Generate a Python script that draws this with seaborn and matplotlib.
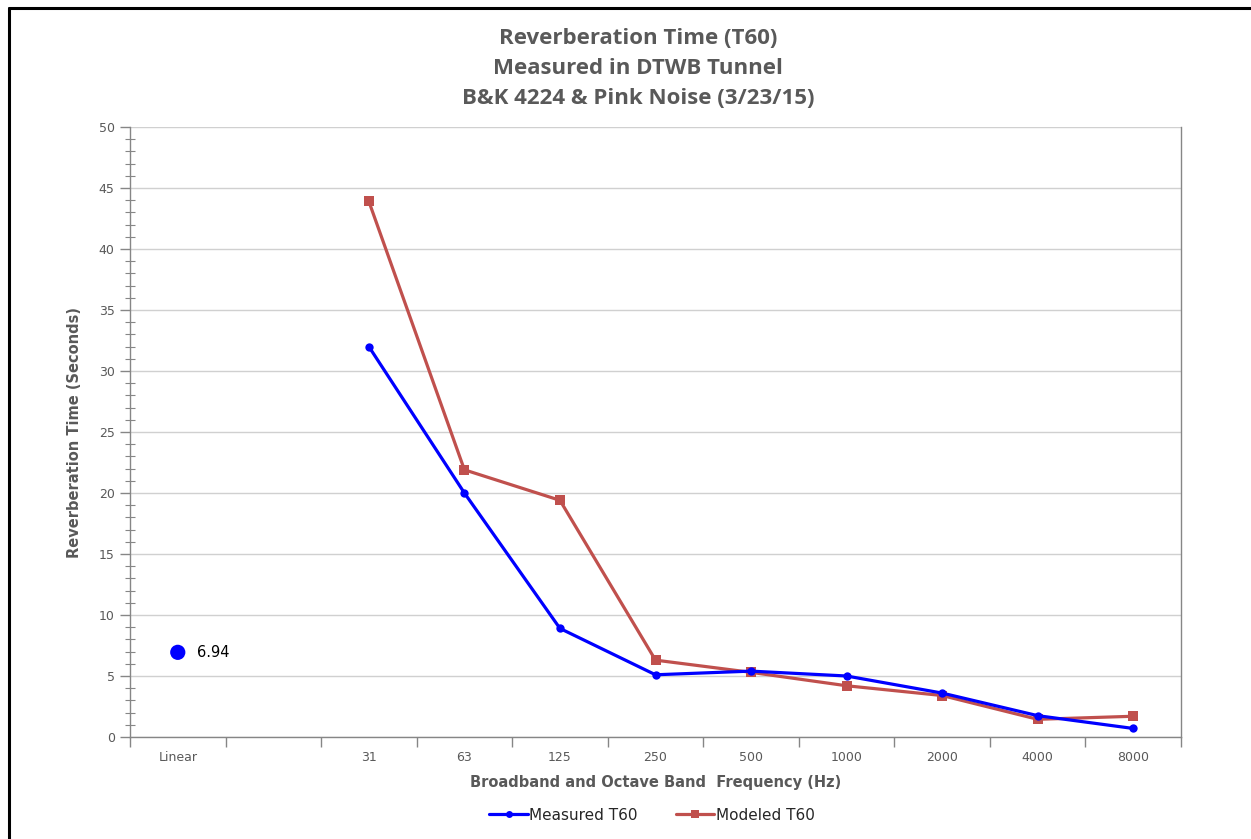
import matplotlib
matplotlib.use("Agg")
import matplotlib.pyplot as plt
from matplotlib.lines import Line2D
from matplotlib.ticker import MultipleLocator, FixedLocator
import seaborn as sns
import pandas as pd
import numpy as np

categories = ["Linear", "", "31", "63", "125", "250", "500", "1000", "2000", "4000", "8000"]
bands = ["31", "63", "125", "250", "500", "1000", "2000", "4000", "8000"]
measured = [32.0, 20.0, 8.9, 5.1, 5.4, 5.0, 3.6, 1.75, 0.7]
modeled = [43.9, 21.9, 19.4, 6.3, 5.3, 4.2, 3.4, 1.45, 1.7]
linear_value = 6.94

title_lines = ["Reverberation Time (T60)", "Measured in DTWB Tunnel", "B&K 4224 & Pink Noise (3/23/15)"]

sns.set_style("white")
plt.rcParams["font.family"] = ["DejaVu Sans"]

pos = {c: i for i, c in enumerate(categories)}
df = pd.DataFrame({
    "x": [pos[b] for b in bands] * 2,
    "T60": measured + modeled,
    "series": ["Measured T60"] * len(bands) + ["Modeled T60"] * len(bands),
})

fig = plt.figure(figsize=(12.51, 8.39), dpi=100)
ax = fig.add_axes([130 / 1251, 1 - 737 / 839, (1181 - 130) / 1251, (737 - 127) / 839])

blue = "#0000FF"
red = "#C0504D"
sns.lineplot(data=df[df.series == "Measured T60"], x="x", y="T60", color=blue, lw=2.3,
             marker="o", markersize=6, markeredgewidth=0, ax=ax, legend=False, zorder=4)
sns.lineplot(data=df[df.series == "Modeled T60"], x="x", y="T60", color=red, lw=2.3,
             marker="s", markersize=6.5, markeredgewidth=0, ax=ax, legend=False, zorder=3)
sns.scatterplot(x=[pos["Linear"]], y=[linear_value], color=blue, s=120, edgecolor="none", ax=ax, zorder=5)
ax.annotate(f"{linear_value:.2f}", (pos["Linear"], linear_value), xytext=(14, 0),
            textcoords="offset points", va="center", ha="left", fontsize=10.5, color="black")

gray = "#868686"
ax.set_xlim(-0.5, len(categories) - 0.5)
ax.set_ylim(0, 50)
ax.yaxis.set_major_locator(MultipleLocator(5))
ax.yaxis.set_minor_locator(MultipleLocator(1))
ax.xaxis.set_major_locator(FixedLocator(range(len(categories))))
ax.set_xticklabels(categories)
ax.xaxis.set_minor_locator(FixedLocator(np.arange(-0.5, len(categories), 1.0)))
ax.tick_params(axis="x", which="major", length=0, pad=10, labelsize=9, labelcolor="#595959")
ax.tick_params(axis="x", which="minor", length=7, width=1, color=gray, direction="out", bottom=True)
ax.tick_params(axis="y", which="major", length=7, width=1, color=gray, direction="out", left=True,
               labelsize=9, labelcolor="#595959", pad=4)
ax.tick_params(axis="y", which="minor", length=7, width=0.8, color=gray, direction="inout", left=True)

ax.grid(axis="y", which="major", color="#D0D0D0", lw=1)
ax.set_axisbelow(True)
for s in ["left", "bottom", "right"]:
    ax.spines[s].set_color(gray)
    ax.spines[s].set_linewidth(1)
ax.spines["top"].set_visible(False)

ax.set_xlabel("Broadband and Octave Band  Frequency (Hz)", fontsize=10.5, fontweight="bold",
              color="#595959", labelpad=8)
ax.set_ylabel("Reverberation Time (Seconds)", fontsize=10.5, fontweight="bold", color="#595959",
              labelpad=12)

for i, line in enumerate(title_lines):
    fig.text(638 / 1251, 1 - (38 + 30 * i) / 839, line, ha="center", va="center",
             fontsize=16, fontweight="bold", color="#595959", family=["Open Sans", "DejaVu Sans"])

handles = [Line2D([], [], color=blue, lw=2.3, marker="o", markersize=5, markeredgewidth=0),
           Line2D([], [], color=red, lw=2.3, marker="s", markersize=5.5, markeredgewidth=0)]
fig.legend(handles, ["Measured T60", "Modeled T60"], loc="center", bbox_to_anchor=(652 / 1251, 1 - 815 / 839),
           ncol=2, frameon=False, fontsize=11, handlelength=2.5, handletextpad=0.1, columnspacing=2.5,
           labelcolor="#262626")

fig.add_artist(Line2D([9 / 1251, 9 / 1251], [0, 1 - 8 / 839], color="black", lw=2.2, transform=fig.transFigure))
fig.add_artist(Line2D([9 / 1251, 1], [1 - 8 / 839, 1 - 8 / 839], color="black", lw=2.2, transform=fig.transFigure))

fig.savefig("out.png", dpi=100)
